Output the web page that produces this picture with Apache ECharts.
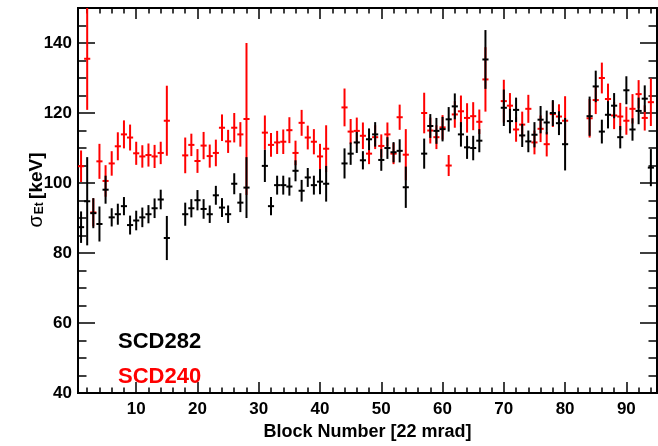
<!DOCTYPE html>
<html>
<head>
<meta charset="utf-8">
<script src="https://cdn.jsdelivr.net/npm/echarts@6/dist/echarts.min.js"></script>
<style>
  html, body { margin: 0; padding: 0; background: #fff; }
  #chart { width: 658px; height: 446px; }
</style>
</head>
<body>
<div id="chart"></div>
<script>
// Block numbers (shared by both calorimeter sets)
const blocks = [
  1, 2, 3, 4, 5, 6, 7, 8, 9, 10, 11, 12, 13, 14, 15,
  18, 19, 20, 21, 22, 23, 24, 25, 26, 27, 28,
  31, 32, 33, 34, 35, 36, 37, 38, 39, 40, 41,
  44, 45, 46, 47, 48, 49, 50, 51, 52, 53, 54,
  57, 58, 59, 60, 61, 62, 63, 64, 65, 66, 67,
  70, 71, 72, 73, 74, 75, 76, 77, 78, 79, 80,
  84, 85, 86, 87, 88, 89, 90, 91, 92, 93, 94
];

// SCD282: sigma_Et [keV] and its uncertainty
const scd282Sigma = [
  87.4, 94.8, 91.4, 88.3, 98.1, 90.2, 91.1, 93.4, 88.0, 89.3, 90.2, 91.1, 92.8, 95.3, 84.3,
  91.1, 92.8, 95.1, 92.6, 91.1, 96.5, 93.0, 91.1, 99.8, 94.4, 98.7,
  104.9, 93.4, 99.4, 99.4, 99.0, 103.5, 97.8, 101.6, 99.4, 100.4, 99.8,
  105.6, 108.4, 111.6, 106.5, 112.5, 113.9, 106.6, 110.0, 108.8, 109.2, 98.8,
  108.4, 116.3, 114.9, 115.4, 118.2, 121.9, 113.9, 110.2, 110.0, 112.1, 135.3,
  121.5, 117.7, 120.9, 113.6, 111.9, 113.8, 118.1, 117.3, 120.0, 117.1, 111.1,
  119.1, 127.6, 114.7, 119.5, 122.1, 113.1, 126.5, 115.3, 120.6, 124.1, 104.4
];
const scd282Error = [
  4.5, 12.6, 4.3, 5.0, 4.0, 2.6, 3.0, 2.6, 2.7, 2.8, 2.8, 2.6, 2.8, 2.8, 6.3,
  3.3, 2.6, 2.9, 2.8, 2.5, 2.7, 2.7, 2.5, 3.0, 2.7, 8.7,
  4.6, 2.6, 2.7, 2.7, 2.6, 3.0, 3.1, 2.7, 2.7, 3.6, 5.1,
  4.3, 3.2, 3.0, 2.6, 3.1, 3.5, 3.1, 3.1, 2.9, 3.3, 5.9,
  4.3, 3.4, 3.7, 3.5, 3.5, 3.7, 3.5, 3.3, 3.5, 3.3, 8.4,
  5.2, 3.5, 3.5, 3.3, 3.1, 3.6, 3.9, 3.4, 3.7, 3.4, 7.5,
  5.6, 4.5, 3.4, 3.9, 3.6, 3.2, 4.0, 3.2, 3.8, 3.8, 5.3
];

// SCD240: sigma_Et [keV] and its uncertainty
const scd240Sigma = [
  104.8, 135.5, 91.6, 106.2, 100.6, 105.6, 110.5, 113.9, 113.0, 108.5, 107.6, 108.0, 107.6, 108.6, 117.8,
  107.9, 110.9, 106.3, 110.7, 107.7, 108.6, 115.8, 111.9, 115.8, 113.9, 118.3,
  114.4, 110.9, 111.6, 111.8, 115.1, 108.6, 117.2, 113.0, 111.8, 107.6, 109.8,
  121.6, 114.7, 114.9, 113.5, 108.4, 113.1, 110.6, 113.9, 108.4, 118.8, 108.1,
  120.0, 115.0, 113.1, 115.9, 105.0, 119.6, 120.5, 118.6, 119.1, 117.5, 129.6,
  123.4, 122.1, 115.3, 116.7, 121.2, 111.6, 115.5, 111.1, 119.7, 119.0, 117.8,
  118.5, 123.7, 130.0, 124.0, 119.3, 119.0, 117.8, 121.2, 125.4, 118.6, 123.1
];
const scd240Error = [
  4.5, 14.6, 4.0, 5.0, 4.5, 3.5, 4.0, 4.0, 3.7, 3.3, 3.2, 3.3, 3.3, 3.2, 10.0,
  5.1, 3.2, 3.4, 3.9, 3.3, 3.8, 3.8, 3.3, 4.2, 3.5, 21.7,
  4.9, 3.4, 3.3, 3.5, 3.7, 3.5, 3.7, 3.4, 3.6, 3.6, 6.7,
  5.4, 3.6, 3.8, 3.8, 3.0, 3.4, 3.3, 3.4, 3.0, 3.6, 7.3,
  5.8, 3.7, 3.4, 3.5, 3.0, 3.8, 4.5, 4.2, 4.0, 3.5, 9.2,
  6.1, 3.6, 3.5, 3.7, 4.0, 3.4, 3.8, 3.5, 3.7, 3.5, 7.0,
  5.5, 4.0, 4.4, 4.4, 3.9, 3.9, 4.0, 4.2, 4.0, 3.6, 6.8
];

// Axis ranges and labelled tick values
const xRange = [0.5, 95];
const yRange = [40, 150];
const xTickLabels = [10, 20, 30, 40, 50, 60, 70, 80, 90];
const yTickLabels = [40, 60, 80, 100, 120, 140];

// Minor tick positions: every 2 blocks, every 5 keV
const xMinor = [];
for (let v = 2; v < xRange[1]; v += 2) if (v % 10 !== 0) xMinor.push(v);
const yMinor = [];
for (let v = 45; v < yRange[1]; v += 5) if ((v - 40) % 20 !== 0) yMinor.push(v);

const FONT = '"Liberation Sans", Arial, Helvetica, sans-serif';

function toPoints(vals, errs) {
  return blocks.map((b, i) => [b, vals[i], errs[i]]);
}

// Error-bar cross: vertical stat. error, horizontal bar spanning the block width
function errorBars(color) {
  return function (params, api) {
    const x = api.value(0), v = api.value(1), e = api.value(2);
    const cs = params.coordSys;
    const clampY = y => Math.max(cs.y, Math.min(cs.y + cs.height, y));
    const top = api.coord([x, v + e]);
    const bot = api.coord([x, v - e]);
    const l = api.coord([x - 0.5, v]);
    const r = api.coord([x + 0.5, v]);
    const style = { stroke: color, lineWidth: 2 };
    return {
      type: 'group',
      children: [
        { type: 'line', shape: { x1: top[0], y1: clampY(top[1]), x2: bot[0], y2: clampY(bot[1]) }, style },
        { type: 'line', shape: { x1: l[0], y1: l[1], x2: r[0], y2: r[1] }, style }
      ]
    };
  };
}

function xAx(position, ticks, len, opts) {
  return Object.assign({
    type: 'value', min: xRange[0], max: xRange[1], position,
    axisLine: { show: true, onZero: false, lineStyle: { color: '#000', width: 2 } },
    axisTick: { show: true, inside: true, length: len, customValues: ticks, lineStyle: { color: '#000', width: 1.5 } },
    axisLabel: { show: false },
    splitLine: { show: false }
  }, opts || {});
}
function yAx(position, ticks, len, opts) {
  return Object.assign({
    type: 'value', min: yRange[0], max: yRange[1], position,
    axisLine: { show: true, onZero: false, lineStyle: { color: '#000', width: 2 } },
    axisTick: { show: true, inside: true, length: len, customValues: ticks, lineStyle: { color: '#000', width: 1.5 } },
    axisLabel: { show: false },
    splitLine: { show: false }
  }, opts || {});
}

const chart = echarts.init(document.getElementById('chart'), null, { renderer: 'canvas' });

chart.setOption({
  animation: false,
  backgroundColor: '#fff',
  grid: { left: 78, right: 1, top: 8, bottom: 44, containLabel: false },
  xAxis: [
    xAx('bottom', xTickLabels, 11, {
      axisLabel: {
        show: true, customValues: xTickLabels, margin: 8,
        color: '#000', fontFamily: FONT, fontWeight: 'bold', fontSize: 17
      },
      name: 'Block Number [22 mrad]',
      nameLocation: 'middle', nameGap: 25,
      nameTextStyle: { color: '#000', fontFamily: FONT, fontWeight: 'bold', fontSize: 18 }
    }),
    xAx('bottom', xMinor, 5.5),
    xAx('top', xTickLabels, 11),
    xAx('top', xMinor, 5.5)
  ],
  yAxis: [
    yAx('left', yTickLabels, 17, {
      axisLabel: {
        show: true, customValues: yTickLabels, margin: 6,
        color: '#000', fontFamily: FONT, fontWeight: 'bold', fontSize: 17
      }
    }),
    yAx('left', yMinor, 8.5),
    yAx('right', yTickLabels, 17),
    yAx('right', yMinor, 8.5)
  ],
  graphic: [
    {
      // y-axis title, read bottom to top
      type: 'text', x: 34, y: 190, rotation: Math.PI / 2, z: 10,
      style: {
        text: '{sig|σ}{sub|Et} {unit|[keV]}',
        align: 'center', verticalAlign: 'middle',
        rich: {
          sig: { fontFamily: FONT, fontSize: 20, fill: '#000', lineHeight: 24, verticalAlign: 'bottom' },
          sub: { fontFamily: FONT, fontSize: 12, fontWeight: 'bold', fill: '#000', lineHeight: 24, verticalAlign: 'bottom', padding: [10, 0, 0, 1] },
          unit: { fontFamily: FONT, fontSize: 19, fontWeight: 'bold', fill: '#000', lineHeight: 24, verticalAlign: 'bottom' }
        }
      }
    },
    {
      type: 'text', left: 118, top: 331, z: 10,
      style: { text: 'SCD282', fill: '#000', font: 'bold 22px ' + FONT }
    },
    {
      type: 'text', left: 118, top: 366, z: 10,
      style: { text: 'SCD240', fill: '#ff0000', font: 'bold 22px ' + FONT }
    }
  ],
  series: [
    {
      name: 'SCD240', type: 'custom', xAxisIndex: 0, yAxisIndex: 0, z: 2,
      renderItem: errorBars('#ff0000'),
      encode: { x: 0, y: 1 },
      data: toPoints(scd240Sigma, scd240Error)
    },
    {
      name: 'SCD282', type: 'custom', xAxisIndex: 0, yAxisIndex: 0, z: 3,
      renderItem: errorBars('#000000'),
      encode: { x: 0, y: 1 },
      data: toPoints(scd282Sigma, scd282Error)
    }
  ]
});
</script>
</body>
</html>
